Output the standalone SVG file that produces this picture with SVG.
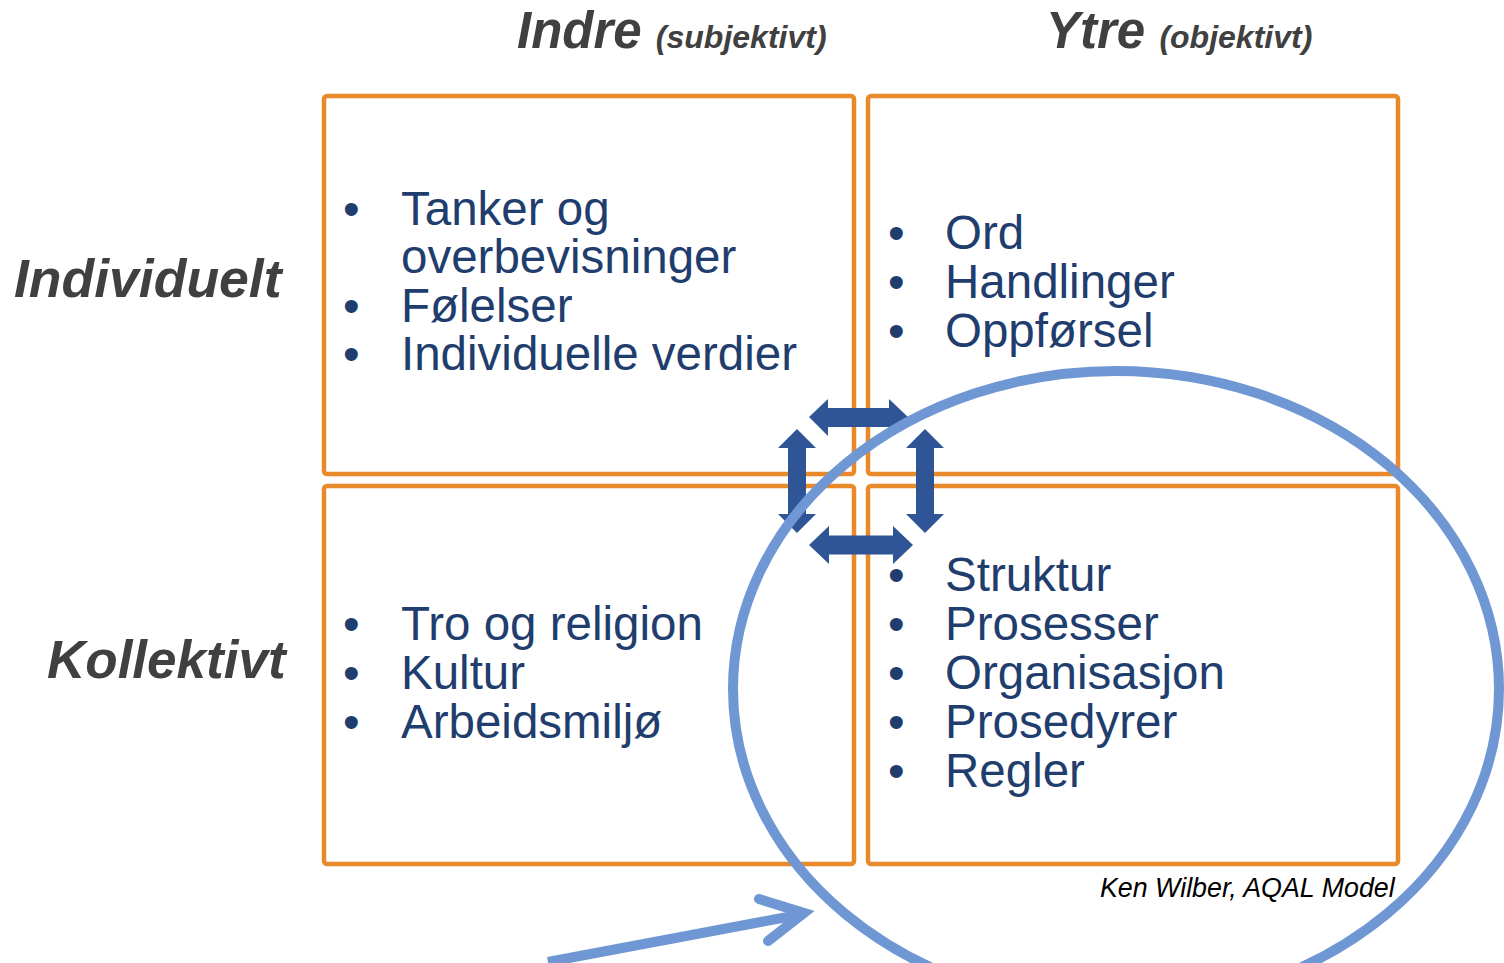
<svg xmlns="http://www.w3.org/2000/svg" width="1504" height="963" viewBox="0 0 1504 963">
<style>
.box{fill:none;stroke:#E8892A;stroke-width:4.5}
.item{font-family:"Liberation Sans",Arial,sans-serif;font-size:47.5px;fill:#1F3D6D}
.hdr{font-family:"Liberation Sans",Arial,sans-serif;font-weight:bold;font-style:italic;fill:#404040}
.dbl{fill:#2F5597}
</style>
<rect width="1504" height="963" fill="#FFFFFF"/>
<g id="headers">
<text class="hdr" x="517" y="48" font-size="51">Indre <tspan font-size="32">(subjektivt)</tspan></text>
<text class="hdr" x="1046" y="48" font-size="51">Ytre <tspan font-size="32">(objektivt)</tspan></text>
<text class="hdr" x="14" y="297" font-size="53.5">Individuelt</text>
<text class="hdr" x="47" y="678" font-size="53">Kollektivt</text>
</g>
<g id="q-tl">
<rect class="box" x="324" y="96" width="530" height="378" rx="3"/>
<text class="item" x="343" y="225">•</text><text class="item" x="401" y="225">Tanker og</text>
<text class="item" x="401" y="273">overbevisninger</text>
<text class="item" x="343" y="322">•</text><text class="item" x="401" y="322">Følelser</text>
<text class="item" x="343" y="370">•</text><text class="item" x="401" y="370">Individuelle verdier</text>
</g>
<g id="q-tr">
<rect class="box" x="868" y="96" width="530" height="378" rx="3"/>
<text class="item" x="888" y="249">•</text><text class="item" x="945" y="249">Ord</text>
<text class="item" x="888" y="298">•</text><text class="item" x="945" y="298">Handlinger</text>
<text class="item" x="888" y="347">•</text><text class="item" x="945" y="347">Oppførsel</text>
</g>
<g id="q-bl">
<rect class="box" x="324" y="486" width="530" height="378" rx="3"/>
<text class="item" x="343" y="640">•</text><text class="item" x="401" y="640">Tro og religion</text>
<text class="item" x="343" y="689">•</text><text class="item" x="401" y="689">Kultur</text>
<text class="item" x="343" y="738">•</text><text class="item" x="401" y="738">Arbeidsmiljø</text>
</g>
<g id="q-br">
<rect class="box" x="868" y="486" width="530" height="378" rx="3"/>
<text class="item" x="888" y="591">•</text><text class="item" x="945" y="591">Struktur</text>
<text class="item" x="888" y="640">•</text><text class="item" x="945" y="640">Prosesser</text>
<text class="item" x="888" y="689">•</text><text class="item" x="945" y="689">Organisasjon</text>
<text class="item" x="888" y="738">•</text><text class="item" x="945" y="738">Prosedyrer</text>
<text class="item" x="888" y="787">•</text><text class="item" x="945" y="787">Regler</text>
</g>
<g id="source">
<text x="1100" y="897" font-family="'Liberation Sans',Arial,sans-serif" font-style="italic" font-size="26.8" fill="#000000">Ken Wilber, AQAL Model</text>
</g>
<g id="connectors">
<polygon class="dbl" points="809,417 828,399 828,408 889,408 889,399 908,417 889,436 889,427 828,427 828,436"/>
<polygon class="dbl" points="809,545 829,526 829,535.5 893,535.5 893,526 913,545 893,564 893,554.5 829,554.5 829,564"/>
<polygon class="dbl" points="797,429 816,448 806,448 806,514 816,514 797,533 778,514 788,514 788,448 778,448"/>
<polygon class="dbl" points="925,429 944,448 934,448 934,514 944,514 925,533 906,514 916,514 916,448 906,448"/>
</g>
<g id="focus">
<ellipse cx="1116" cy="689" rx="383" ry="318" fill="none" stroke="#6F97D4" stroke-width="10"/>
<line x1="548" y1="962" x2="798" y2="915" stroke="#6F97D4" stroke-width="10"/>
<polyline points="759,899 804,913 768,941" fill="none" stroke="#6F97D4" stroke-width="10" stroke-linecap="round" stroke-linejoin="miter"/>
</g>
</svg>
